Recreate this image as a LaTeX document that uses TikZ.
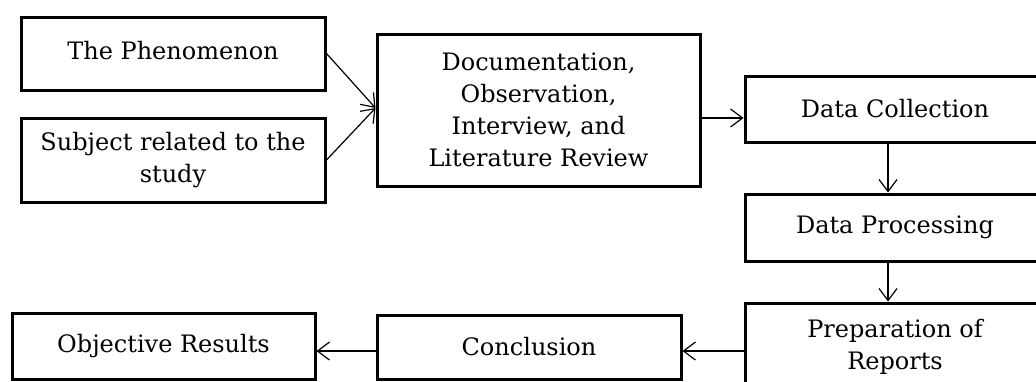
\documentclass[tikz,border=0pt]{standalone}
\usepackage{fontspec}
\setmainfont{DejaVu Serif}
\usetikzlibrary{arrows.meta}
\begin{document}
\begin{tikzpicture}[x=0.5pt,y=-0.5pt,
  box/.style={draw, line width=1.5pt, inner sep=2pt, align=center,
    font=\fontsize{12}{16}\selectfont},
  arr/.style={line width=0.6pt, -{Straight Barb[length=6pt,width=9pt,line width=0.6pt]}}]
\clip (0,0) rectangle (1036,381);
\fill[white] (0,0) rectangle (1036,381);
\node[box, minimum width=152pt, minimum height=36.5pt] (phen) at (173,53.5) {\raisebox{3pt}{The Phenomenon}};
\node[box, minimum width=152pt, minimum height=42pt] (subj) at (173,160) {Subject related to the\\study};
\node[box, minimum width=161.5pt, minimum height=76pt] (doc) at (538.5,110) {Documentation,\\Observation,\\Interview, and\\Literature Review};
\node[box, minimum width=150pt, minimum height=33pt] (dc) at (895,109) {Data Collection};
\node[box, minimum width=150pt, minimum height=33.5pt] (dp) at (895,227.5) {Data Processing};
\node[box, minimum width=150pt, minimum height=43.5pt] (prep) at (895,346.5) {Preparation of\\Reports};
\node[box, minimum width=152pt, minimum height=32pt] (concl) at (529,347) {Conclusion};
\node[box, minimum width=151.5pt, minimum height=33pt] (obj) at (163.5,346) {Objective Results};
\coordinate (docin) at ([yshift=1pt]doc.west);
\coordinate (docout) at ([yshift=-4pt]doc.east);
\coordinate (conclin) at ([yshift=-2pt]concl.east);
\coordinate (conclout) at ([yshift=-2pt]concl.west);
\draw[arr] (phen.east) -- (docin);
\draw[arr] (subj.east) -- (docin);
\draw[arr] (docout) -- (dc.west |- docout);
\draw[arr] ([xshift=-3.5pt]dc.south) -- ([xshift=-3.5pt]dp.north);
\draw[arr] ([xshift=-3.5pt]dp.south) -- ([xshift=-3.5pt]prep.north);
\draw[arr] (prep.west |- conclin) -- (conclin);
\draw[arr] (conclout) -- (obj.east |- conclout);
\end{tikzpicture}
\end{document}
